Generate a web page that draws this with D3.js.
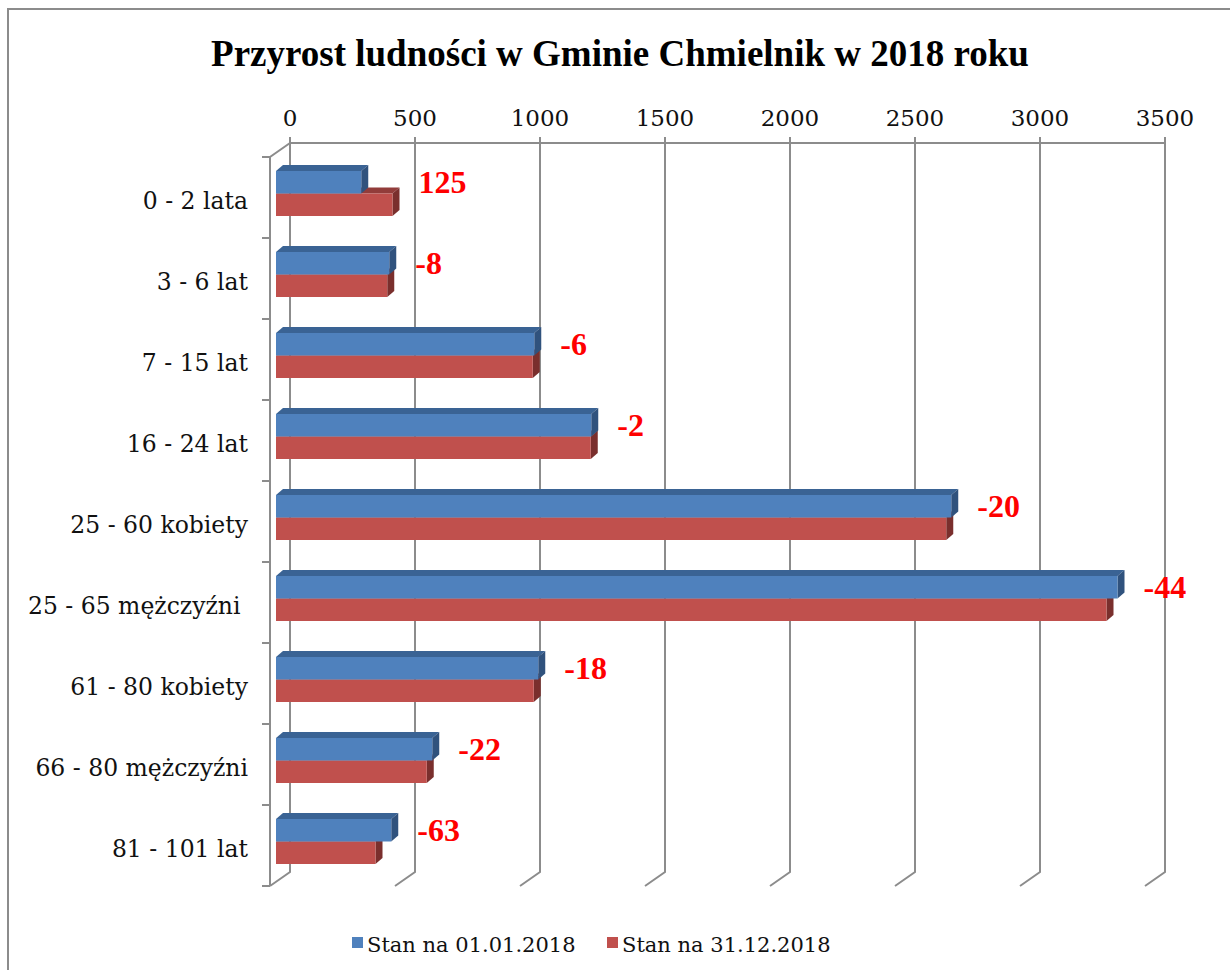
<!DOCTYPE html>
<html lang="pl">
<head>
  <meta charset="UTF-8">
  <title>Przyrost ludności w Gminie Chmielnik w 2018 roku</title>
  <script src="https://d3js.org/d3.v7.min.js"></script>
</head>
<body style="margin:0; background:#fff;">
  <div id="chart"></div>
  <script>
// data
const categories = ["0 - 2 lata", "3 - 6 lat", "7 - 15 lat", "16 - 24 lat", "25 - 60 kobiety",
  "25 - 65 mężczyźni ", "61 - 80 kobiety", "66 - 80 mężczyźni", "81 - 101 lat"];
const seriesNames = ["Stan na 01.01.2018", "Stan na 31.12.2018"];
const stan2018Start = [341, 453, 1033, 1261, 2701, 3366, 1049, 625, 461];
const stan2018End = [466, 445, 1027, 1259, 2681, 3322, 1031, 603, 398];
const diffLabels = ["125", "-8", "-6", "-2", "-20", "-44", "-18", "-22", "-63"];
const xTicks = [0, 500, 1000, 1500, 2000, 2500, 3000, 3500];

const W = 1230, H = 970;
const grid = "#8c8c8c";
const colors = [
  { front: "#4f81bd", top: "#3a6394", side: "#30527d" },
  { front: "#c0504d", top: "#923c3a", side: "#7a2f2d" }
];

// 3d frame: front plane and back wall
const frontX0 = 270, depthX = 20, depthY = -14;
const frontTop = 157, frontBottom = 886;
const backX0 = frontX0 + depthX, backTop = frontTop + depthY, backBottom = frontBottom + depthY;

const x = d3.scaleLinear().domain([0, 3500]).range([0, 875]);
const y = d3.scaleBand().domain(categories).range([frontTop, frontBottom])
  .paddingInner(36 / 81).paddingOuter(18 / 81);
const ySub = d3.scaleBand().domain([0, 1]).range([0, y.bandwidth()]);

// bars sit a little inside the depth
const barX0 = frontX0 + 6, barShiftY = -4, barDx = 7, barDy = -6;

const svg = d3.select("#chart").append("svg")
  .attr("width", W).attr("height", H);

// outer border
svg.append("rect")
  .attr("x", 8).attr("y", 9).attr("width", W + 10).attr("height", H + 10)
  .attr("fill", "none").attr("stroke", grid).attr("stroke-width", 2);

// title
svg.append("text")
  .attr("x", 620).attr("y", 66)
  .attr("text-anchor", "middle")
  .attr("font-family", "Liberation Serif, Times New Roman, serif")
  .attr("font-weight", "bold").attr("font-size", 37)
  .text("Przyrost ludności w Gminie Chmielnik w 2018 roku");

const gGrid = svg.append("g")
  .attr("stroke", grid).attr("stroke-width", 2).attr("fill", "none");

// back wall gridlines + floor edges
xTicks.forEach(v => {
  const bx = backX0 + x(v);
  gGrid.append("path")
    .attr("d", `M${bx},${backTop - 6} L${bx},${backBottom} L${bx - depthX},${frontBottom}`);
});
// back wall top edge
gGrid.append("line")
  .attr("x1", backX0).attr("x2", backX0 + x(3500))
  .attr("y1", backTop).attr("y2", backTop);
// left wall
gGrid.append("path")
  .attr("d", `M${backX0},${backTop} L${frontX0},${frontTop} L${frontX0},${frontBottom}`);
// left ticks at category boundaries
const bounds = categories.map(c => y(c) - y.step() * y.paddingOuter());
bounds.push(frontBottom);
bounds.forEach(b => {
  gGrid.append("line")
    .attr("x1", frontX0 - 8).attr("x2", frontX0)
    .attr("y1", b).attr("y2", b);
});

// top tick labels
svg.append("g").selectAll("text").data(xTicks).join("text")
  .attr("x", d => backX0 + x(d)).attr("y", 126)
  .attr("text-anchor", "middle")
  .attr("font-family", "DejaVu Serif, serif").attr("font-size", 23)
  .attr("fill", "#111")
  .text(d => d);

// category labels
svg.append("g").selectAll("text").data(categories).join("text")
  .attr("x", 248).attr("y", d => y(d) - y.step() * y.paddingOuter() + y.step() / 2 + 3)
  .attr("dy", "0.36em")
  .attr("text-anchor", "end")
  .attr("font-family", "DejaVu Serif, serif").attr("font-size", 23.5)
  .attr("fill", "#111")
  .style("white-space", "pre")
  .text(d => d);

// bars, red (lower) first, then blue over it
const series = [stan2018Start, stan2018End];
const gBars = svg.append("g");
categories.forEach((c, i) => {
  [1, 0].forEach(s => {
    const v = series[s][i];
    const x0 = barX0, x1 = barX0 + x(v);
    const y0 = y(c) + barShiftY + ySub(s), y1 = y0 + ySub.bandwidth();
    const col = colors[s];
    const g = gBars.append("g");
    // top face
    g.append("path")
      .attr("d", `M${x0},${y0} L${x0 + barDx},${y0 + barDy} L${x1 + barDx},${y0 + barDy} L${x1},${y0} Z`)
      .attr("fill", col.top);
    // side face
    g.append("path")
      .attr("d", `M${x1},${y0} L${x1 + barDx},${y0 + barDy} L${x1 + barDx},${y1 + barDy} L${x1},${y1} Z`)
      .attr("fill", col.side);
    // front face
    g.append("rect")
      .attr("x", x0).attr("y", y0)
      .attr("width", x1 - x0).attr("height", y1 - y0)
      .attr("fill", col.front);
  });
});

// difference labels
svg.append("g").selectAll("text").data(categories).join("text")
  .attr("x", (d, i) => barX0 + x(Math.max(stan2018Start[i], stan2018End[i])) + 26)
  .attr("y", d => y(d) + barShiftY + ySub(0) + ySub.bandwidth() / 2)
  .attr("dy", "0.35em")
  .attr("font-family", "Liberation Serif, Times New Roman, serif")
  .attr("font-weight", "bold").attr("font-size", 32)
  .attr("fill", "#ff0000")
  .text((d, i) => diffLabels[i]);

// legend
const legend = svg.append("g").attr("font-family", "DejaVu Serif, serif").attr("font-size", 21);
const legendX = [352, 607];
seriesNames.forEach((name, s) => {
  legend.append("rect")
    .attr("x", legendX[s]).attr("y", 937).attr("width", 11).attr("height", 11)
    .attr("fill", colors[s].front);
  legend.append("text")
    .attr("x", legendX[s] + 15).attr("y", 952)
    .attr("fill", "#111")
    .text(name);
});
  </script>
</body>
</html>
